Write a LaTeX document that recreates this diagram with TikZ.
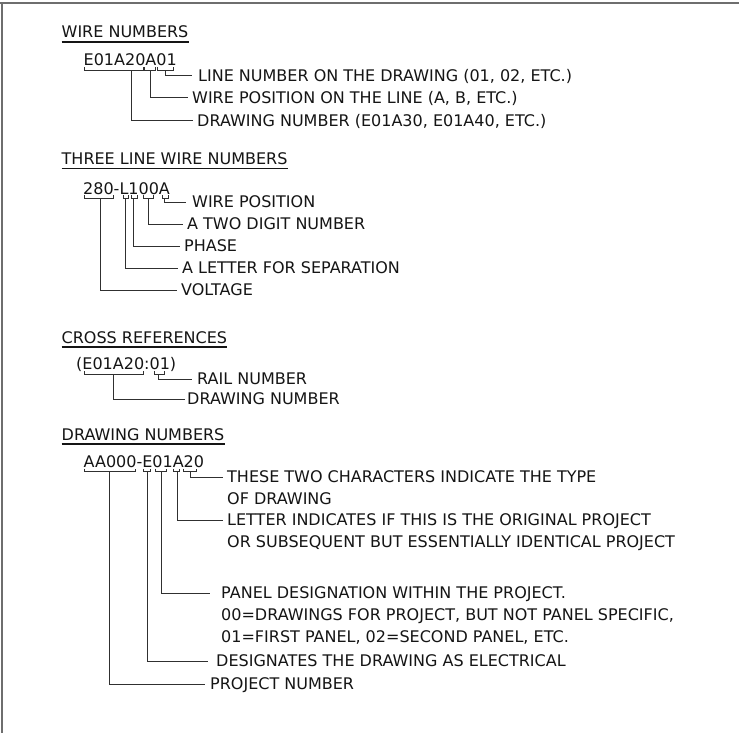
\documentclass[tikz,border=0pt]{standalone}
\usepackage{fontspec}
\setmainfont{DejaVu Sans}
\definecolor{ink}{HTML}{151515}
\definecolor{wire}{HTML}{303030}
\definecolor{framec}{HTML}{6E6E6E}
\newcommand\brkt[3]{\draw[brk] (#1,#3-3) |- (#2,#3) -- (#2,#3-3);}
\tikzset{
  txt/.style={anchor=base west, inner sep=0pt, text=ink, font=\fontsize{16}{22}\selectfont},
  lbl/.style={txt, yshift=-5.8pt},
  brk/.style={draw=wire, line width=1pt},
  lead/.style={draw=wire, line width=1pt},
  ul/.style={draw=ink, line width=1.3pt},
  frameline/.style={draw=framec, line width=1.6pt}
}
\begin{document}
\begin{tikzpicture}[x=1pt,y=-1pt]
\useasboundingbox (0,0) rectangle (739,733);
\fill[white] (0,0) rectangle (739,733);
% frame
\draw[frameline] (0,3) -- (739,3);
\draw[frameline] (2,3) -- (2,733);

% ---------------- WIRE NUMBERS
\node[txt] (h1) at (61.5,38) {WIRE NUMBERS};
\draw[ul] ([yshift=-4pt]h1.base west) -- ([yshift=-4pt]h1.base east);
\node[txt] (c1) at (83.5,65.5) {E01A20A01};
\brkt{84}{143}{70.5}
\brkt{144}{155}{70.5}
\brkt{157}{173}{70.5}
\coordinate (w1b) at (165,70.5); \coordinate (w1e) at (192,76);
\coordinate (w2b) at (150,70.5); \coordinate (w2e) at (188,98);
\coordinate (w3b) at (131,70.5); \coordinate (w3e) at (193,121);
\draw[lead] (w1b) |- (w1e);
\draw[lead] (w2b) |- (w2e);
\draw[lead] (w3b) |- (w3e);
\node[lbl] (w1t) at (198,76) {LINE NUMBER ON THE DRAWING (01, 02, ETC.)};
\node[lbl] (w2t) at (192,98) {WIRE POSITION ON THE LINE (A, B, ETC.)};
\node[lbl] (w3t) at (197,121) {DRAWING NUMBER (E01A30, E01A40, ETC.)};

% ---------------- THREE LINE WIRE NUMBERS
\node[txt] (h2) at (61.5,164.5) {THREE LINE WIRE NUMBERS};
\draw[ul] ([yshift=-4pt]h2.base west) -- ([yshift=-4pt]h2.base east);
\node[txt] (c2) at (83,194.5) {280-L100A};
\brkt{84}{113}{198}
\brkt{123}{128}{198}
\brkt{131}{137}{198}
\brkt{143}{153}{198}
\brkt{162}{168}{198}
\coordinate (t1b) at (164,198); \coordinate (t1e) at (186,202);
\coordinate (t2b) at (148,198); \coordinate (t2e) at (183,224);
\coordinate (t3b) at (133,198); \coordinate (t3e) at (180,246);
\coordinate (t4b) at (125,198); \coordinate (t4e) at (178,268);
\coordinate (t5b) at (100,198); \coordinate (t5e) at (177,290);
\draw[lead] (t1b) |- (t1e);
\draw[lead] (t2b) |- (t2e);
\draw[lead] (t3b) |- (t3e);
\draw[lead] (t4b) |- (t4e);
\draw[lead] (t5b) |- (t5e);
\node[lbl] (t1t) at (192,202) {WIRE POSITION};
\node[lbl] (t2t) at (187,224) {A TWO DIGIT NUMBER};
\node[lbl] (t3t) at (184,246) {PHASE};
\node[lbl] (t4t) at (182,268) {A LETTER FOR SEPARATION};
\node[lbl] (t5t) at (181,290) {VOLTAGE};

% ---------------- CROSS REFERENCES
\node[txt] (h3) at (61.5,343) {CROSS REFERENCES};
\draw[ul] ([yshift=-4pt]h3.base west) -- ([yshift=-4pt]h3.base east);
\node[txt] (c3) at (76,369.5) {(E01A20:01)};
\brkt{84}{143}{374}
\brkt{154}{164}{374}
\coordinate (x1b) at (158,374); \coordinate (x1e) at (192,379);
\coordinate (x2b) at (113,374); \coordinate (x2e) at (185,399);
\draw[lead] (x1b) |- (x1e);
\draw[lead] (x2b) |- (x2e);
\node[lbl] (x1t) at (197,379) {RAIL NUMBER};
\node[lbl] (x2t) at (187,399) {DRAWING NUMBER};

% ---------------- DRAWING NUMBERS
\node[txt] (h4) at (61.5,440) {DRAWING NUMBERS};
\draw[ul] ([yshift=-4pt]h4.base west) -- ([yshift=-4pt]h4.base east);
\node[txt] (c4) at (83.5,467) {AA000-E01A20};
\brkt{84}{135}{471.5}
\brkt{143}{150}{471.5}
\brkt{155}{166}{471.5}
\brkt{173}{179}{471.5}
\brkt{183}{196}{471.5}
\coordinate (d1b) at (190,471.5); \coordinate (d1e) at (223,477);
\coordinate (d2b) at (177,471.5); \coordinate (d2e) at (223,520);
\coordinate (d3b) at (161,471.5); \coordinate (d3e) at (210,593);
\coordinate (d4b) at (147,471.5); \coordinate (d4e) at (208,661);
\coordinate (d5b) at (109,471.5); \coordinate (d5e) at (205,684);
\draw[lead] (d1b) |- (d1e);
\draw[lead] (d2b) |- (d2e);
\draw[lead] (d3b) |- (d3e);
\draw[lead] (d4b) |- (d4e);
\draw[lead] (d5b) |- (d5e);
\node[lbl] (d1t) at (227,477) {THESE TWO CHARACTERS INDICATE THE TYPE};
\node[lbl] (d1u) at (227,499) {OF DRAWING};
\node[lbl] (d2t) at (227,520) {LETTER INDICATES IF THIS IS THE ORIGINAL PROJECT};
\node[lbl] (d2u) at (227,542) {OR SUBSEQUENT BUT ESSENTIALLY IDENTICAL PROJECT};
\node[lbl] (d3t) at (221,593) {PANEL DESIGNATION WITHIN THE PROJECT.};
\node[lbl] (d3u) at (221,615) {00=DRAWINGS FOR PROJECT, BUT NOT PANEL SPECIFIC,};
\node[lbl] (d3v) at (221,637) {01=FIRST PANEL, 02=SECOND PANEL, ETC.};
\node[lbl] (d4t) at (216,661) {DESIGNATES THE DRAWING AS ELECTRICAL};
\node[lbl] (d5t) at (210,684) {PROJECT NUMBER};
\end{tikzpicture}
\end{document}
